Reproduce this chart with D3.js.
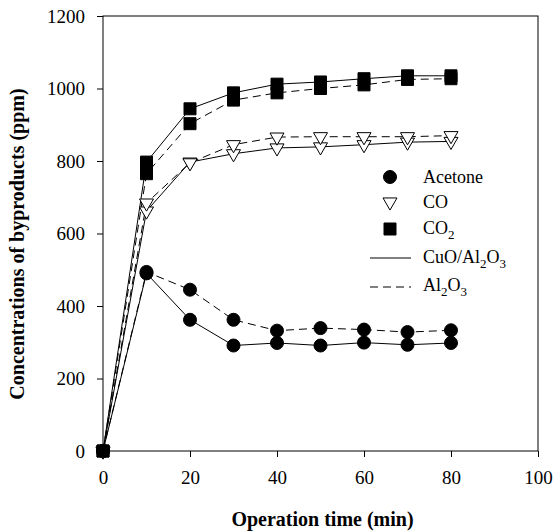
<!DOCTYPE html>
<html>
<head>
<meta charset="utf-8">
<script src="https://cdn.jsdelivr.net/npm/d3@7"></script>
<style>
  body { margin: 0; background: #fff; }
  text { font-family: "Liberation Serif", "Times New Roman", serif; fill: #000; }
</style>
</head>
<body>
<div id="chart"></div>
<script>
// operation time (min)
const times = [0, 10, 20, 30, 40, 50, 60, 70, 80];
// byproduct concentrations (ppm)
const acetoneCuO = [0, 490, 362, 291, 298, 291, 299, 293, 298];
const acetoneAl = [0, 494, 445, 362, 332, 339, 335, 328, 333];
const coCuO = [0, 662, 797, 820, 836, 839, 845, 852, 854];
const coAl = [0, 684, 795, 845, 866, 867, 867, 867, 870];
const co2CuO = [0, 797, 944, 988, 1012, 1018, 1027, 1035, 1035];
const co2Al = [0, 765, 903, 968, 988, 1000, 1010, 1025, 1027];

const xTicks = [0, 20, 40, 60, 80, 100];
const yTicks = [0, 200, 400, 600, 800, 1000, 1200];

var margin = { top: 16, right: 15, bottom: 81, left: 103 },
  width = 553 - margin.left - margin.right,
  height = 532 - margin.top - margin.bottom;

var svg = d3
  .select("#chart")
  .append("svg")
  .attr("width", 553)
  .attr("height", 532);

var g = svg
  .append("g")
  .attr("transform", "translate(" + margin.left + "," + margin.top + ")");

var x = d3.scaleLinear().domain([0, 100]).range([0, width]);
var y = d3.scaleLinear().domain([0, 1200]).range([height, 0]);

// axes with outward ticks
var xAxis = g
  .append("g")
  .attr("transform", "translate(0," + height + ")")
  .call(d3.axisBottom(x).tickValues(xTicks).tickFormat(d3.format("d"))
    .tickSize(6).tickSizeOuter(0).tickPadding(14));
var yAxis = g
  .append("g")
  .call(d3.axisLeft(y).tickValues(yTicks).tickFormat(d3.format("d"))
    .tickSize(6).tickSizeOuter(0).tickPadding(12));

[xAxis, yAxis].forEach(function (a) {
  a.select(".domain").remove();
  a.selectAll("line").attr("stroke", "#000");
  a.selectAll("text")
    .style("font-family", "Liberation Serif, serif")
    .style("font-size", "19px");
});

// frame
g.append("rect")
  .attr("x", 0)
  .attr("y", 0)
  .attr("width", width)
  .attr("height", height)
  .attr("fill", "none")
  .attr("stroke", "#000")
  .attr("stroke-width", 1);

var series = [
  { values: acetoneCuO, shape: "circle", dash: null },
  { values: acetoneAl, shape: "circle", dash: "8,5" },
  { values: coCuO, shape: "triangle", dash: null },
  { values: coAl, shape: "triangle", dash: "8,5" },
  { values: co2CuO, shape: "square", dash: null },
  { values: co2Al, shape: "square", dash: "8,5" },
];

var line = d3
  .line()
  .x(function (d) { return x(d[0]); })
  .y(function (d) { return y(d[1]); });

function pairs(vals) {
  return times.map(function (t, i) { return [t, vals[i]]; });
}

// lines
g.selectAll(".seriesLine")
  .data(series)
  .enter()
  .append("path")
  .attr("class", "seriesLine")
  .attr("d", function (d) { return line(pairs(d.values)); })
  .attr("fill", "none")
  .attr("stroke", "#000")
  .attr("stroke-width", 1)
  .attr("stroke-dasharray", function (d) { return d.dash; });

function symbolPath(shape) {
  if (shape === "circle") return d3.symbol(d3.symbolCircle, 133)();
  if (shape === "square") return d3.symbol(d3.symbolSquare, 144)();
  return d3.symbol(d3.symbolTriangle, 85)();
}

function drawMarker(sel, shape, cx, cy) {
  sel.append("path")
    .attr("d", symbolPath(shape))
    .attr("transform", "translate(" + cx + "," + cy + ")" + (shape === "triangle" ? " rotate(180)" : ""))
    .attr("fill", shape === "triangle" ? "#fff" : "#000")
    .attr("stroke", "#000")
    .attr("stroke-width", 1);
}

// markers
series.forEach(function (s) {
  var mg = g.append("g");
  pairs(s.values).forEach(function (p) {
    drawMarker(mg, s.shape, x(p[0]), y(p[1]));
  });
});

// legend
var legend = svg.append("g");
var legendItems = [
  { kind: "circle", label: ["Acetone"], y: 177, base: 183 },
  { kind: "triangle", label: ["CO"], y: 202, base: 208 },
  { kind: "square", label: ["CO", "2"], y: 229, base: 234 },
  { kind: "solid", label: ["CuO/Al", "2", "O", "3"], y: 258, base: 263 },
  { kind: "dash", label: ["Al", "2", "O", "3"], y: 287, base: 291 },
];

legendItems.forEach(function (it) {
  if (it.kind === "solid" || it.kind === "dash") {
    legend.append("line")
      .attr("x1", 370).attr("x2", 411)
      .attr("y1", it.y).attr("y2", it.y)
      .attr("stroke", "#000")
      .attr("stroke-width", 1)
      .attr("stroke-dasharray", it.kind === "dash" ? "8,5" : null);
  } else {
    drawMarker(legend, it.kind, 390, it.y);
  }
  var t = legend.append("text")
    .attr("x", 423)
    .attr("y", it.base)
    .style("font-size", "18px");
  it.label.forEach(function (part, i) {
    var sub = i % 2 === 1;
    t.append("tspan")
      .attr("dy", sub ? 5 : (i > 0 ? -5 : 0))
      .style("font-size", sub ? "13px" : "18px")
      .text(part);
  });
});

// axis titles
svg.append("text")
  .attr("x", margin.left + width / 2 + 2)
  .attr("y", 526)
  .attr("text-anchor", "middle")
  .style("font-size", "20px")
  .style("font-weight", "bold")
  .text("Operation time (min)");

svg.append("text")
  .attr("transform", "translate(24,244) rotate(-90)")
  .attr("text-anchor", "middle")
  .style("font-size", "20px")
  .style("font-weight", "bold")
  .text("Concentrations of byproducts (ppm)");
</script>
</body>
</html>
